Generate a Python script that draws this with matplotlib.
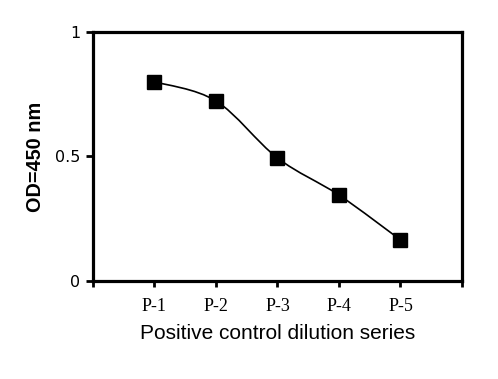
import matplotlib.pyplot as plt
import numpy as np
from matplotlib.path import Path
from matplotlib.patches import PathPatch

# data
samples = ['P-1', 'P-2', 'P-3', 'P-4', 'P-5']
positions = [1, 2, 3, 4, 5]
od450 = [0.80, 0.723, 0.494, 0.345, 0.165]
y_ticks = [0, 0.5, 1]
y_tick_labels = ['0', '0.5', '1']


def smooth_path(xs, ys, t=1/6):
    # Excel-style smoothed line: cubic bezier through each point
    pts = np.column_stack([xs, ys])
    verts = [pts[0]]
    codes = [Path.MOVETO]
    n = len(pts)
    for i in range(n - 1):
        p0 = pts[i - 1] if i > 0 else pts[i]
        p1 = pts[i]
        p2 = pts[i + 1]
        p3 = pts[i + 2] if i + 2 < n else pts[i + 1]
        c1 = p1 + (p2 - p0) * t
        c2 = p2 - (p3 - p1) * t
        verts += [c1, c2, p2]
        codes += [Path.CURVE4] * 3
    return Path(verts, codes)


fig = plt.figure(figsize=(4.98, 3.79), dpi=100)
ax = fig.add_axes([0.1867, 0.2586, 0.741, 0.657])

ax.add_patch(PathPatch(smooth_path(positions, od450), facecolor='none',
                       edgecolor='black', lw=1.2, zorder=2))
ax.plot(positions, od450, linestyle='none', marker='s', markersize=9.5,
        color='black', zorder=3)

ax.set_xlim(0, 6)
ax.set_ylim(0, 1)
ax.set_xticks(range(0, 7))
ax.set_xticklabels([''] + samples + [''], family='Liberation Serif', fontsize=13)
ax.set_yticks(y_ticks)
ax.set_yticklabels(y_tick_labels, family='DejaVu Sans', fontsize=11.5)

for s in ax.spines.values():
    s.set_linewidth(2.3)
ax.tick_params(axis='x', direction='out', length=4, width=2, pad=8)
ax.tick_params(axis='y', direction='out', length=5, width=2, pad=4)

ax.set_ylabel('OD=450 nm', family='Liberation Sans', fontsize=14.3, fontweight='bold')
ax.yaxis.set_label_coords(-0.157, 0.5)
ax.yaxis.label.set_va('center')
ax.set_xlabel('Positive control dilution series', family='Liberation Sans', fontsize=15)
ax.xaxis.set_label_coords(0.5, -0.209)
ax.xaxis.label.set_va('center')

fig.savefig('out.png', dpi=100)
